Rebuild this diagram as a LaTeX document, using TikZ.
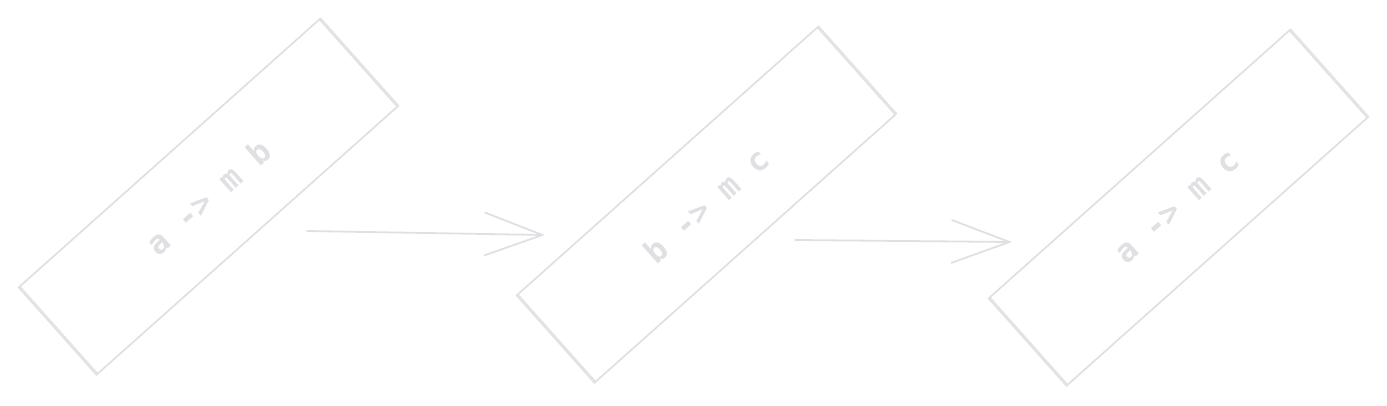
\documentclass[tikz,border=0pt]{standalone}
\usepackage{fontspec}
\newfontfamily\sketchfont{DejaVu Sans Mono}
\usetikzlibrary{arrows.meta,calc}
\definecolor{pencil}{HTML}{E0E0E4}

\begin{document}
\begin{tikzpicture}[x=1pt,y=-1pt,
    rulebox/.style={draw=pencil, line width=1.6pt, shape=rectangle, rotate=41.7,
      minimum width=403pt, minimum height=117pt, inner sep=0pt,
      text=pencil, font=\sketchfont\bfseries\fontsize{32}{32}\selectfont,
      preaction={draw=pencil, line width=1.1pt, transform canvas={shift={(1.3pt,1pt)}}}},
    flow/.style={draw=pencil, line width=1.8pt, line cap=round,
      -{Straight Barb[length=58pt,width=43pt,line width=1.8pt]}}]
  \useasboundingbox (0,0) rectangle (1387,405);
  \node[rulebox] (r1) at (208,197) {a -> m b};
  \node[rulebox] (r2) at (706,205) {b -> m c};
  \node[rulebox] (r3) at (1178,208) {a -> m c};
  % arrow ends sit in the gaps between the boxes
  \coordinate (s1) at ([shift={(99,34)}]r1.center);
  \coordinate (t1) at ([shift={(-161,30)}]r2.center);
  \coordinate (s2) at ([shift={(89,35)}]r2.center);
  \coordinate (t2) at ([shift={(-166,34)}]r3.center);
  \draw[flow] (s1) -- (t1);
  \draw[flow] (s2) -- (t2);
\end{tikzpicture}
\end{document}
